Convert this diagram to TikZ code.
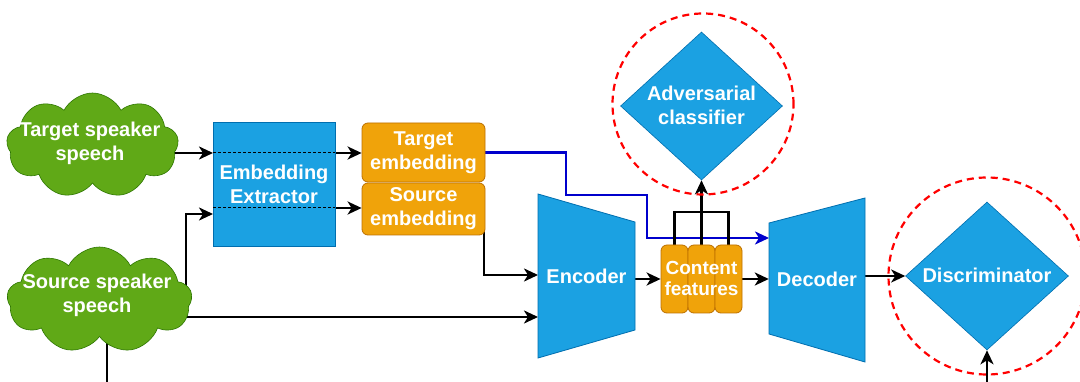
\documentclass[tikz,border=0pt]{standalone}
\usepackage{fontspec}
\setmainfont{Liberation Sans}
\usetikzlibrary{shapes.geometric,shapes.symbols,arrows.meta,calc}
\definecolor{dblue}{HTML}{1BA1E2}
\definecolor{dbluestroke}{HTML}{006EAF}
\definecolor{dorange}{HTML}{F0A30A}
\definecolor{dorangestroke}{HTML}{BD7000}
\definecolor{dgreen}{HTML}{60A917}
\definecolor{dgreenstroke}{HTML}{2D7600}
\definecolor{eblue}{HTML}{0000CC}
\pgfdeclarelayer{bg}
\pgfsetlayers{bg,main}
\begin{document}
\begin{tikzpicture}[x=1pt,y=-1pt,
  lbl/.style={text=white,font=\bfseries\fontsize{20pt}{24pt}\selectfont,align=center,inner sep=0pt},
  bluebox/.style={fill=dblue,draw=dbluestroke,line width=0.8pt},
  orangebox/.style={fill=dorange,draw=dorangestroke,line width=0.8pt,rounded corners=6pt,inner sep=0pt},
  greencloud/.style={cloud,cloud puffs=9,cloud puff arc=125,cloud ignores aspect,fill=dgreen,draw=dgreenstroke,line width=0.6pt,inner sep=0pt},
  arr/.style={line width=2.4pt,-{Stealth[length=14pt,width=13pt,inset=4pt]}},
  bluearr/.style={line width=2.4pt,draw=eblue,-{Stealth[length=14pt,width=13pt,inset=4pt]}},
  conn/.style={line width=2.4pt},
  thindash/.style={line width=1pt,dash pattern=on 3pt off 2pt},
  ring/.style={circle,draw=red,line width=2.2pt,dash pattern=on 7pt off 5pt,inner sep=0pt},
  dia/.style={diamond,fill=dblue,draw=dbluestroke,line width=0.6pt,inner sep=0pt}]
\useasboundingbox (0,0) rectangle (1080,382);
\begin{pgfonlayer}{bg}
\fill[white] (0,0) rectangle (1080,382);
\end{pgfonlayer}

% clouds
\node[greencloud,minimum width=172pt,minimum height=105pt] (tcloud) at (92.5,145.5) {};
\node[lbl] (tcloudtxt) at (90,143) {Target speaker\\speech};
\node[greencloud,minimum width=185pt,minimum height=106pt] (scloud) at (99.5,300) {};
\node[lbl] (scloudtxt) at (97,295) {Source speaker\\speech};

% embedding extractor
\node[bluebox,lbl,minimum width=122pt,minimum height=124pt] (ext) at (274,184) {Embedding\\Extractor};
\coordinate (e1l) at (213,153);
\coordinate (e1r) at (335,153);
\coordinate (e2l) at (213,208);
\coordinate (e2r) at (335,208);
\draw[thindash] (e1l) -- (e1r);
\draw[thindash] (e2l) -- (e2r);

% embeddings
\node[orangebox,lbl,minimum width=123pt,minimum height=59pt] (temb) at (423.5,152.5) {Target\\embedding};
\node[orangebox,lbl,minimum width=123pt,minimum height=52pt] (semb) at (423.5,209) {Source\\embedding};

% encoder
\filldraw[bluebox] (538,194) -- (635,222) -- (635,330) -- (538,358) -- cycle;
\node[lbl,minimum width=97pt,minimum height=164pt] (enc) at (586.5,276) {Encoder};

% content features
\node[orangebox,minimum width=27pt,minimum height=68pt] (cf1) at (674.5,279) {};
\node[orangebox,minimum width=27pt,minimum height=68pt] (cf2) at (701.5,279) {};
\node[orangebox,minimum width=27pt,minimum height=68pt] (cf3) at (728.5,279) {};
\node[lbl,font=\bfseries\fontsize{19pt}{21pt}\selectfont] (cftxt) at (701.5,278) {Content\\features};

% decoder
\filldraw[bluebox] (769,223) -- (865,198) -- (865,362) -- (769,334) -- cycle;
\node[lbl,minimum width=96pt,minimum height=164pt] (dec) at (817,279) {Decoder};

% adversarial classifier
\node[dia,minimum width=162pt,minimum height=148pt] (adv) at (701.5,106) {};
\node[lbl] (advtxt) at (701.5,105) {Adversarial\\classifier};
\node[ring,minimum size=181pt] (advring) at (703,104) {};

% discriminator
\node[dia,minimum width=163pt,minimum height=148pt] (disc) at (987,276) {};
\node[lbl] (disctxt) at (987,275) {Discriminator};
\node[ring,minimum size=197pt] (discring) at (987,276) {};

% connectors
\coordinate (ein) at (213,214);
\coordinate (sv) at (186,293);
\coordinate (sbot) at (107,390);
\coordinate (encin1) at (538,275);
\coordinate (encin2) at (538,317);
\coordinate (sembv) at (484,275);
\coordinate (b1) at (566,195);
\coordinate (b2) at (647,238);
\coordinate (decin1) at (769,238);
\coordinate (cft) at (702,212);
\coordinate (dbot) at (987,390);
\begin{pgfonlayer}{bg}
\draw[arr] (tcloud.center |- e1l) -- (e1l);
\draw[arr] (e1r) -- (temb.west |- e1r);
\draw[arr] (e2r) -- (semb.west |- e2r);
\draw[arr] (scloud.center |- sv) -- (sv) |- (ein);
\draw[conn] (scloud.center -| sbot) -- (sbot);
\draw[arr] (scloud.center |- encin2) -- (encin2);
\draw[arr] (semb.center -| sembv) -- (sembv) -- (encin1);
\draw[bluearr] (temb.center) -| (b1) -| (b2) -- (decin1);
\draw[arr] (enc.east |- cf1.west) -- (cf1.west);
\draw[conn] (cf1.north) |- (cft) -| (cf3.north);
\draw[arr] (cf2.north) -- (adv.south);
\draw[arr] (cf3.east) -- (dec.west |- cf3.east);
\draw[arr] (dec.east |- disc.west) -- (disc.west);
\draw[arr] (dbot) -- (disc.south);
\end{pgfonlayer}
\end{tikzpicture}
\end{document}
